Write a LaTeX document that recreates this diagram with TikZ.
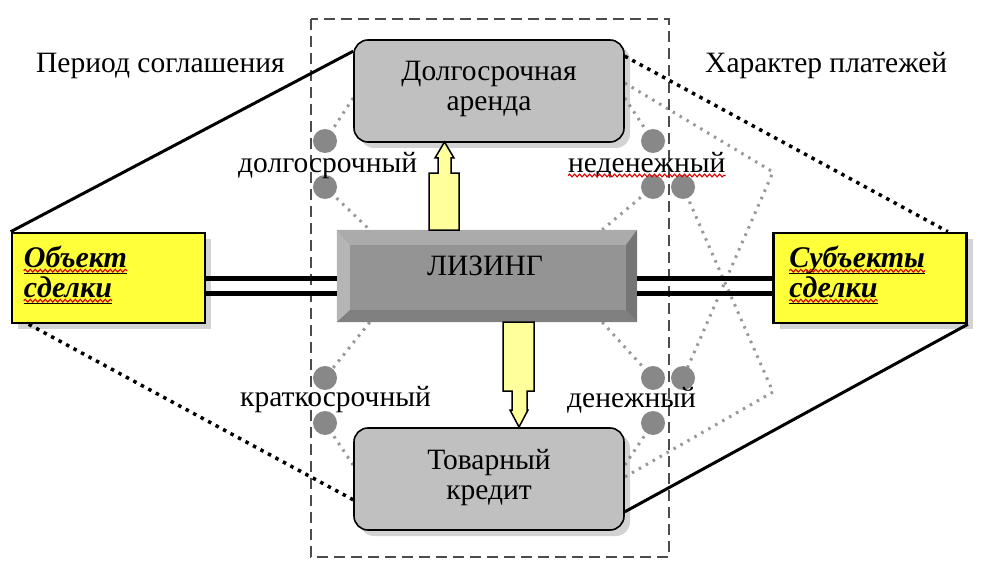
\documentclass[tikz,border=0pt]{standalone}
\usepackage{fontspec}
\setmainfont{Liberation Serif}
\usetikzlibrary{positioning, shadows, backgrounds, calc, decorations.pathmorphing}

\definecolor{boxgray}{HTML}{C0C0C0}
\definecolor{signyellow}{HTML}{FFFF3A}
\definecolor{arrowyellow}{HTML}{FFFF9C}
\definecolor{dotgray}{HTML}{888888}
\definecolor{linkgray}{HTML}{989898}

\begin{document}
\begin{tikzpicture}[
  x=1pt, y=-1pt,
  font=\fontsize{29.5}{30}\selectfont,
  term/.style={rectangle, draw, line width=1.6pt, rounded corners=14pt, fill=boxgray, minimum width=270pt, minimum height=102pt, inner sep=0pt, drop shadow={shadow xshift=6pt, shadow yshift=-6pt, opacity=0.35}},
  party/.style={rectangle, draw, line width=2.6pt, fill=signyellow, minimum width=193pt, minimum height=90pt, inner sep=0pt, drop shadow={shadow xshift=6pt, shadow yshift=-6pt, opacity=0.35}},
  core/.style={rectangle, fill=black!42, minimum width=300pt, minimum height=92pt, inner sep=0pt},
  dotmark/.style={circle, fill=dotgray, minimum size=24pt, inner sep=0pt},
  lbl/.style={inner sep=0pt, anchor=base west},
  bigword/.style={inner sep=0pt, anchor=base west, font=\fontsize{30}{32}\selectfont\bfseries\itshape},
  rail/.style={line width=5pt},
  solidlink/.style={line width=3pt},
  blackdots/.style={line width=3.5pt, dash pattern=on 3.5pt off 5pt},
  graydots/.style={linkgray, line width=3pt, dash pattern=on 2.5pt off 5.5pt},
  frame/.style={black!70, line width=1.2pt, dash pattern=on 11pt off 6pt},
  blockarr/.style={draw, line width=1.5pt, fill=arrowyellow},
  uline/.style={line width=1.4pt},
  spell/.style={red!85!black, line width=1.1pt, decorate, decoration={snake, amplitude=1.4pt, segment length=5pt}}
]
  \useasboundingbox (0,0) rectangle (1004,575);

  % main boxes
  \node[term] (arenda) at (489,91) {};
  \node[term] (credit) at (489,479) {};
  \node[party] (object) at (108.5,278) {};
  \node[party] (subject) at (870,278) {};
  \node[core] (leasing) at (487,276) {};

  % bevel of the central box
  \fill[black!33] (leasing.north west) -- (leasing.north east) -- ([xshift=-11pt, yshift=-15pt]leasing.north east) -- ([xshift=13pt, yshift=-15pt]leasing.north west) -- cycle;
  \fill[black!29] (leasing.north west) -- (leasing.south west) -- ([xshift=13pt, yshift=12pt]leasing.south west) -- ([xshift=13pt, yshift=-15pt]leasing.north west) -- cycle;
  \fill[black!50] (leasing.south west) -- (leasing.south east) -- ([xshift=-11pt, yshift=12pt]leasing.south east) -- ([xshift=13pt, yshift=12pt]leasing.south west) -- cycle;
  \fill[black!54] (leasing.north east) -- (leasing.south east) -- ([xshift=-11pt, yshift=12pt]leasing.south east) -- ([xshift=-11pt, yshift=-15pt]leasing.north east) -- cycle;

  % texts
  \node[align=center] (arendatxt) at ([yshift=2pt]arenda.center) {Долгосрочная\\аренда};
  \node[align=center] (credittxt) at ([yshift=1pt]credit.center) {Товарный\\кредит};
  \node (leasingtxt) at ([xshift=-2pt, yshift=10pt]leasing.center) {ЛИЗИНГ};

  \node[bigword] (obj1) at ([xshift=13pt, yshift=-36pt]object.north west) {Объект};
  \node[bigword] (obj2) at ([xshift=13pt, yshift=-66pt]object.north west) {сделки};
  \node[bigword] (subj1) at ([xshift=17pt, yshift=-36pt]subject.north west) {Субъекты};
  \node[bigword] (subj2) at ([xshift=17pt, yshift=-66pt]subject.north west) {сделки};
  \foreach \w in {obj1, obj2, subj1, subj2} {
    \draw[spell] ([yshift=-3pt]\w.base west) -- ([yshift=-3pt]\w.base east);
    \draw[uline] ([yshift=-5.5pt]\w.base west) -- ([yshift=-5.5pt]\w.base east);
  }

  \node[lbl] (periodlbl) at (36,73) {Период соглашения};
  \node[lbl] (paylbl) at (705,73) {Характер платежей};

  % frame
  \draw[frame] (311,19) rectangle (669,557);

  % dots
  \node[dotmark] (dl1) at (325,141) {};
  \node[dotmark] (dl2) at (325,187) {};
  \node[dotmark] (dl3) at (325,378) {};
  \node[dotmark] (dl4) at (325,423) {};
  \node[dotmark] (dr1) at (653,141) {};
  \node[dotmark] (dr2) at (653,187) {};
  \node[dotmark] (dr3) at (683,187) {};
  \node[dotmark] (dr4) at (653,378) {};
  \node[dotmark] (dr5) at (683,378) {};
  \node[dotmark] (dr6) at (653,423) {};
  \coordinate (turnA) at (773,172);
  \coordinate (turnB) at (773,392);

  \node[lbl] (longlbl) at (238,172) {долгосрочный};
  \node[lbl] (nonmonlbl) at (568,172) {неденежный};
  \node[lbl] (shortlbl) at (240,406) {краткосрочный};
  \node[lbl] (monlbl) at (567,407) {денежный};
  \draw[spell] ([yshift=-3.5pt]nonmonlbl.base west) -- ([yshift=-3.5pt]nonmonlbl.base east);

  \begin{scope}[on background layer]
    \draw[graydots] ([yshift=-7pt]arenda.west) -- (dl1.center);
    \draw[graydots] (dl2.center) -- ([xshift=33pt]leasing.north west);
    \draw[graydots] ([xshift=33pt]leasing.south west) -- (dl3.center);
    \draw[graydots] (dl4.center) -- ([yshift=14pt]credit.west);
    \draw[graydots] ([yshift=-7pt]arenda.east) -- (dr1.center);
    \draw[graydots] (dr2.center) -- ([xshift=-35pt]leasing.north east);
    \draw[graydots] ([xshift=-35pt]leasing.south east) -- (dr4.center);
    \draw[graydots] (dr6.center) -- ([yshift=14pt]credit.east);
    \draw[graydots] ([yshift=8pt]arenda.east) -- (turnA) -- (dr5.center);
    \draw[graydots] (dr3.center) -- (turnB) -- ([yshift=2pt]credit.east);
  \end{scope}

  % connectors
  \draw[rail] (object.east) -- (object.east -| leasing.west);
  \draw[rail] ([yshift=-15pt]object.east) -- ([yshift=-15pt]object.east -| leasing.west);
  \draw[rail] (subject.west) -- (subject.west -| leasing.east);
  \draw[rail] ([yshift=-15pt]subject.west) -- ([yshift=-15pt]subject.west -| leasing.east);

  \draw[solidlink] (object.north west) -- ([yshift=-12pt]arenda.north west);
  \draw[solidlink] (subject.south east) -- ([yshift=19pt]credit.south east);
  \draw[blackdots] ([yshift=-17pt]arenda.north east) -- ([xshift=-20pt]subject.north east);
  \draw[blackdots] ([xshift=18pt]object.south west) -- ([yshift=31pt]credit.south west);

  % block arrows
  \draw[blockarr] (429,230) -- (429,173) -- (438,173) -- (438,158) -- (435,158) -- (444.5,142) -- (454,158) -- (451,158) -- (451,173) -- (459,173) -- (459,230) -- cycle;
  \draw[blockarr] (503,322) -- (503,391) -- (512,391) -- (512,410) -- (510,410) -- (519,427) -- (528,410) -- (527,410) -- (527,391) -- (534,391) -- (534,322) -- cycle;
\end{tikzpicture}
\end{document}
